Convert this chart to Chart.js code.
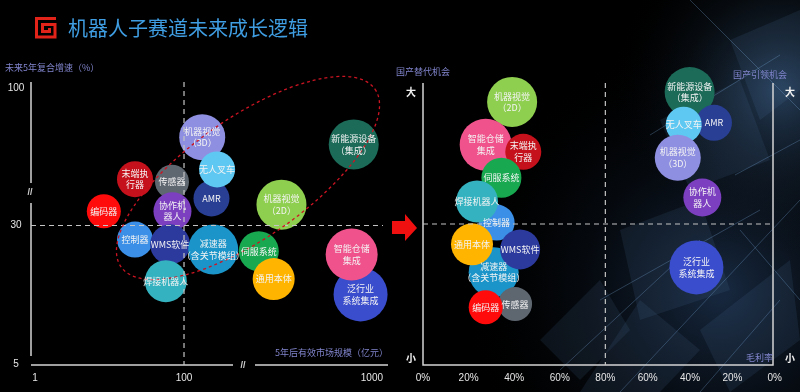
<!DOCTYPE html>
<html>
<head>
<meta charset="utf-8">
<script src="https://cdn.jsdelivr.net/npm/chart.js@4.4.1/dist/chart.umd.min.js"></script>
<style>
  html, body { margin: 0; padding: 0; background: #000; }
  #page { position: relative; width: 800px; height: 392px; overflow: hidden; background: #000;
          font-family: "Noto Sans CJK SC", "Noto Sans", sans-serif; }
  canvas { position: absolute; left: 0; top: 0; }
  #logo { position: absolute; left: 35px; top: 17px; }
  #title { position: absolute; left: 68px; top: 15px; font-size: 20px; line-height: 26px; color: #3f9de2; }
</style>
</head>
<body>
<div id="page">
  <canvas id="bg" width="800" height="392"></canvas>
  <svg id="logo" width="22" height="22" viewBox="0 0 22 22">
    <polyline points="21,1.5 1.5,1.5 1.5,20 20,20 20,7.5 7.5,7.5 7.5,14.5 14.5,14.5 14.5,11"
              fill="none" stroke="#e2231a" stroke-width="3"/>
  </svg>
  <div id="title">机器人子赛道未来成长逻辑</div>
  <canvas id="growth" width="800" height="392"></canvas>
  <canvas id="margin" width="800" height="392"></canvas>
</div>
<script>
// ---- data ----
const segments = ['编码器', '末端执行器', '传感器', '协作机器人', '控制器', 'WMS软件', '焊接机器人',
  '机器视觉（3D）', '无人叉车', 'AMR', '减速器（含关节模组）', '伺服系统', '通用本体',
  '机器视觉（2D）', '新能源设备（集成）', '智能仓储集成', '泛行业系统集成'];

// 5年后有效市场规模（亿元）
const marketSize = [8.4, 22, 69, 70, 22, 65, 57, 125, 150, 140, 143, 250, 300, 330, 800, 780, 870];
// 未来5年复合增速（%）
const growthRate = [34, 45, 44, 34, 25, 23.5, 14.6, 65, 49, 38, 22, 21.5, 15, 36, 61, 20.6, 12.3];
// 毛利率（%）
const grossMargin = [27.5, 44, 40.4, 34.2, 32.3, 42.6, 23.7, 45.8, 43, 28.7, 31, 34.4, 21.5, 39.1, 40.2, 27.5, 37];
// 国产替代机会 / 国产引领机会
const opportunity = ['替代', '替代', '替代', '引领', '替代', '替代', '替代', '引领', '引领', '引领',
  '替代', '替代', '替代', '替代', '引领', '替代', '引领'];
// 机会大小（小 0 — 100 大）
const opportunitySize = [20.5, 75.6, 21.6, 59.4, 50.5, 41, 58, 73.5, 85.2, 85.9, 32.9, 66.4, 42.8, 93.3, 96.8, 78.1, 34.6];
// bubble radius
const bubbleR = [17, 18, 17, 19, 18, 20, 21, 23, 18, 18, 25, 20, 21, 25, 25, 26, 27];

const sizeTicks = [1, 100, 1000];
const growthTicks = [5, 30, 100];
const marginTicks = [0, 20, 40, 60, 80, 60, 40, 20, 0];
const MIRROR = 80;

const segmentColors = ['#ff0b0b', '#c5111b', '#5e6670', '#7c3fc0', '#3b8fe6', '#2c3a9e', '#35b2c0',
  '#8e8fe0', '#5ec8f2', '#283f94', '#1b95c9', '#18a950', '#ffb400', '#8fcf50', '#1b6b58', '#f0538b', '#3a4dcc'];

const bubbleLines = {
  '末端执行器': ['末端执', '行器'],
  '协作机器人': ['协作机', '器人'],
  '机器视觉（3D）': ['机器视觉', '（3D）'],
  '机器视觉（2D）': ['机器视觉', '（2D）'],
  '减速器（含关节模组）': ['减速器', '（含关节模组）'],
  '新能源设备（集成）': ['新能源设备', '（集成）'],
  '智能仓储集成': ['智能仓储', '集成'],
  '泛行业系统集成': ['泛行业', '系统集成']
};

// draw order, bottom to top
const growthOrder = ['传感器', '协作机器人', '控制器', '编码器', '末端执行器', 'WMS软件', '焊接机器人',
  '减速器（含关节模组）', '机器视觉（3D）', 'AMR', '无人叉车', '伺服系统', '通用本体', '机器视觉（2D）',
  '新能源设备（集成）', '泛行业系统集成', '智能仓储集成'];
const marginOrder = ['新能源设备（集成）', 'AMR', '无人叉车', '机器视觉（3D）', '协作机器人', '泛行业系统集成',
  '机器视觉（2D）', '智能仓储集成', '末端执行器', '伺服系统', '控制器', '焊接机器人', '减速器（含关节模组）',
  '通用本体', 'WMS软件', '传感器', '编码器'];

// ---- scale with breaks: value stops mapped to fractions of the axis ----
class BrokenScale extends Chart.Scale {
  static id = 'broken';
  static defaults = {};
  determineDataLimits() {
    const s = this.options.stops;
    this.min = s[0][0];
    this.max = s[s.length - 1][0];
  }
  buildTicks() {
    return this.options.stops.map(s => ({ value: s[0] }));
  }
  getLabelForValue(v) { return String(v); }
  getPixelForValue(v) {
    const s = this.options.stops;
    const f = this.options.logarithmic ? Math.log10 : (t => t);
    let i = 0;
    while (i < s.length - 2 && v > s[i + 1][0]) i++;
    const d = s[i][1] + (f(v) - f(s[i][0])) / (f(s[i + 1][0]) - f(s[i][0])) * (s[i + 1][1] - s[i][1]);
    return this.getPixelForDecimal(d);
  }
  getPixelForTick(i) { return this.getPixelForValue(this.ticks[i].value); }
  getValueForPixel() { return null; }
}
Chart.register(BrokenScale);

// ---- helpers ----
const LABEL_FONT = '9px "Noto Sans CJK SC", sans-serif';
const TITLE_COLOR = '#8084cc';

function seg(ctx, x1, y1, x2, y2) {
  ctx.beginPath(); ctx.moveTo(x1, y1); ctx.lineTo(x2, y2); ctx.stroke();
}
function text(ctx, s, x, y, align, color, font) {
  ctx.fillStyle = color; ctx.font = font; ctx.textAlign = align; ctx.textBaseline = 'middle';
  ctx.fillText(s, x, y);
}
function drawBubbleLabels(chart, idx) {
  const ctx = chart.ctx;
  ctx.save();
  chart.getDatasetMeta(0).data.forEach((el, k) => {
    const name = segments[idx[k]];
    const lines = bubbleLines[name] || [name];
    lines.forEach((ln, j) => {
      text(ctx, ln, el.x, el.y + (j - (lines.length - 1) / 2) * 11.5, 'center', '#f4f4f4', LABEL_FONT);
    });
  });
  ctx.restore();
}
function bubbleDataset(order, toPoint) {
  const idx = order.map(n => segments.indexOf(n));
  return {
    idx,
    dataset: {
      data: idx.map(i => toPoint(i)),
      backgroundColor: idx.map(i => segmentColors[i]),
      borderWidth: 0,
      clip: false
    }
  };
}

// ---- background texture on the right ----
(function () {
  const c = document.getElementById('bg').getContext('2d');
  let g = c.createRadialGradient(720, 290, 10, 720, 290, 260);
  g.addColorStop(0, 'rgba(40,70,110,0.55)');
  g.addColorStop(1, 'rgba(0,0,0,0)');
  c.fillStyle = g; c.fillRect(400, 0, 400, 392);
  g = c.createRadialGradient(780, 90, 5, 780, 90, 170);
  g.addColorStop(0, 'rgba(70,115,165,0.5)');
  g.addColorStop(1, 'rgba(0,0,0,0)');
  c.fillStyle = g; c.fillRect(400, 0, 400, 392);
  const quads = [
    [[620, 230], [700, 200], [730, 290], [640, 320]],
    [[700, 330], [790, 260], [800, 340], [730, 392]],
    [[580, 392], [640, 300], [700, 350], [660, 392]],
    [[730, 40], [800, 10], [800, 90], [760, 120]],
    [[660, 120], [740, 80], [770, 160], [690, 190]],
    [[540, 340], [600, 280], [630, 330], [580, 380]]
  ];
  c.fillStyle = 'rgba(90,130,180,0.12)';
  quads.forEach(q => {
    c.beginPath(); c.moveTo(q[0][0], q[0][1]);
    q.slice(1).forEach(p => c.lineTo(p[0], p[1]));
    c.closePath(); c.fill();
  });
  c.strokeStyle = 'rgba(130,180,230,0.28)'; c.lineWidth = 1;
  [[620, 392, 800, 200], [560, 370, 700, 240], [690, 0, 800, 110], [735, 175, 800, 140],
   [650, 135, 780, 55], [600, 300, 760, 210], [700, 392, 780, 300], [740, 230, 800, 300]]
    .forEach(l => seg(c, l[0], l[1], l[2], l[3]));
})();

// ---- left chart: market size vs growth ----
const left = bubbleDataset(growthOrder, i => ({ x: marketSize[i], y: growthRate[i], r: bubbleR[i] }));

new Chart(document.getElementById('growth'), {
  type: 'bubble',
  data: { datasets: [left.dataset] },
  options: {
    responsive: false,
    animation: false,
    events: [],
    layout: { padding: { left: 31, right: 412, top: 82, bottom: 26 } },
    plugins: { legend: { display: false }, tooltip: { enabled: false } },
    scales: {
      x: { type: 'broken', display: false, logarithmic: true,
           stops: [[1, 0.011], [100, 0.4286], [1000, 0.955]] },
      y: { type: 'broken', display: false, logarithmic: true,
           stops: [[5, 0.0035], [30, 0.493], [100, 0.979]] }
    }
  },
  plugins: [{
    id: 'growthDecor',
    afterDatasetsDraw(chart) {
      const { ctx, chartArea: a, scales: { x, y } } = chart;
      ctx.save();
      // axes with breaks
      ctx.strokeStyle = '#d4d4d4'; ctx.lineWidth = 1.5;
      seg(ctx, a.left, a.top, a.left, 183);
      seg(ctx, a.left, 203, a.left, 356);
      seg(ctx, a.left, a.bottom, 233, a.bottom);
      seg(ctx, 255, a.bottom, a.right, a.bottom);
      text(ctx, '//', a.left - 1, 193, 'center', '#d4d4d4', 'bold 9px "Liberation Sans"');
      text(ctx, '//', 243, a.bottom + 1, 'center', '#d4d4d4', 'bold 9px "Liberation Sans"');
      // quadrant guides
      ctx.strokeStyle = '#c4c4c4'; ctx.lineWidth = 1.2; ctx.setLineDash([5, 4]);
      seg(ctx, x.getPixelForValue(100), a.top, x.getPixelForValue(100), a.bottom);
      seg(ctx, a.left, y.getPixelForValue(30), a.right - 5, y.getPixelForValue(30));
      // highlighted cluster
      ctx.strokeStyle = '#cc1422'; ctx.lineWidth = 1.3; ctx.setLineDash([3, 3]);
      ctx.beginPath();
      ctx.ellipse(248, 178, 155, 60, -35 * Math.PI / 180, 0, Math.PI * 2);
      ctx.stroke();
      ctx.setLineDash([]);
      // ticks
      sizeTicks.forEach(v => text(ctx, String(v), x.getPixelForValue(v), 378, 'center', '#e6e6e6', '10px "Liberation Sans"'));
      growthTicks.forEach(v => text(ctx, String(v), 16, y.getPixelForValue(v), 'center', '#e6e6e6', '10px "Liberation Sans"'));
      text(ctx, '未来5年复合增速（%）', 5, 68, 'left', TITLE_COLOR, '9px "Noto Sans CJK SC"');
      text(ctx, '5年后有效市场规模（亿元）', a.right, 353, 'right', TITLE_COLOR, '9px "Noto Sans CJK SC"');
      ctx.restore();
      drawBubbleLabels(chart, left.idx);
    }
  }]
});

// ---- right chart: gross margin vs opportunity ----
const right = bubbleDataset(marginOrder, i => ({
  x: opportunity[i] === '替代' ? grossMargin[i] : 2 * MIRROR - grossMargin[i],
  y: opportunitySize[i],
  r: bubbleR[i]
}));

new Chart(document.getElementById('margin'), {
  type: 'bubble',
  data: { datasets: [right.dataset] },
  options: {
    responsive: false,
    animation: false,
    events: [],
    layout: { padding: { left: 423, right: 20, top: 83, bottom: 26 } },
    plugins: { legend: { display: false }, tooltip: { enabled: false } },
    scales: {
      x: { type: 'broken', display: false, stops: [[0, 0], [MIRROR, 0.521], [2 * MIRROR, 1.005]] },
      y: { type: 'linear', display: false, min: 0, max: 100 }
    }
  },
  plugins: [{
    id: 'marginDecor',
    beforeDatasetsDraw(chart) {
      const { ctx, chartArea: a } = chart;
      ctx.save();
      // red arrow between the two charts
      ctx.fillStyle = '#f01010';
      ctx.beginPath();
      ctx.moveTo(392, 221); ctx.lineTo(405, 221); ctx.lineTo(405, 214); ctx.lineTo(417, 228);
      ctx.lineTo(405, 241); ctx.lineTo(405, 234); ctx.lineTo(392, 234); ctx.closePath();
      ctx.fill();
      // frame
      ctx.strokeStyle = '#d4d4d4'; ctx.lineWidth = 1.5;
      ctx.beginPath();
      ctx.moveTo(a.left, a.top); ctx.lineTo(a.left, a.bottom); ctx.lineTo(a.right, a.bottom); ctx.lineTo(a.right, a.top);
      ctx.stroke();
      ctx.restore();
    },
    afterDatasetsDraw(chart) {
      const { ctx, chartArea: a, scales: { x, y } } = chart;
      ctx.save();
      ctx.strokeStyle = '#c4c4c4'; ctx.lineWidth = 1.2; ctx.setLineDash([5, 4]);
      seg(ctx, x.getPixelForValue(MIRROR), a.top, x.getPixelForValue(MIRROR), a.bottom);
      seg(ctx, a.left, y.getPixelForValue(50), a.right, y.getPixelForValue(50));
      ctx.setLineDash([]);
      marginTicks.forEach((v, k) => {
        const pos = k <= marginTicks.length / 2 ? v : 2 * MIRROR - v;
        text(ctx, v + '%', x.getPixelForValue(pos), 378, 'center', '#e6e6e6', '10px "Liberation Sans"');
      });
      const bold = 'bold 10px "Noto Sans CJK SC"';
      text(ctx, '大', 411, 92, 'center', '#f0f0f0', bold);
      text(ctx, '大', 790, 92, 'center', '#f0f0f0', bold);
      text(ctx, '小', 411, 358, 'center', '#f0f0f0', bold);
      text(ctx, '小', 790, 358, 'center', '#f0f0f0', bold);
      text(ctx, '国产替代机会', 396, 72, 'left', TITLE_COLOR, '9px "Noto Sans CJK SC"');
      text(ctx, '国产引领机会', 787, 75, 'right', TITLE_COLOR, '9px "Noto Sans CJK SC"');
      text(ctx, '毛利率', 773, 358, 'right', TITLE_COLOR, '9px "Noto Sans CJK SC"');
      ctx.restore();
      drawBubbleLabels(chart, right.idx);
    }
  }]
});
</script>
</body>
</html>
